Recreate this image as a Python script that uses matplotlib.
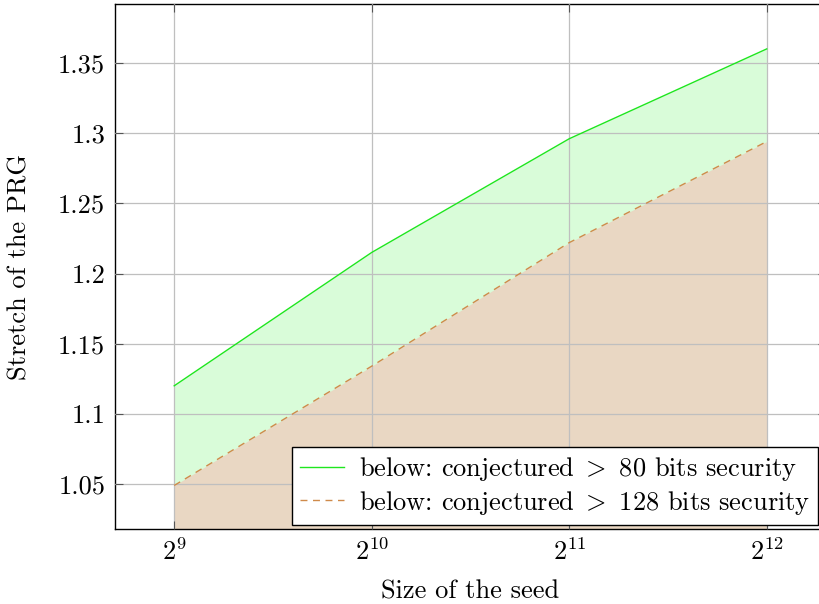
import matplotlib
matplotlib.use("Agg")
import matplotlib.pyplot as plt

plt.rcParams['font.family'] = 'cmr10'
plt.rcParams['mathtext.fontset'] = 'cm'
plt.rcParams['axes.unicode_minus'] = False

# data
seed_sizes = [512, 1024, 2048, 4096]
stretch_80 = [1.120, 1.215, 1.296, 1.360]
stretch_128 = [1.049, 1.134, 1.222, 1.294]
x_ticks = [512, 1024, 2048, 4096]
x_ticklabels = ['$2^{9}$', '$2^{10}$', '$2^{11}$', '$2^{12}$']
y_ticks = [1.05, 1.1, 1.15, 1.2, 1.25, 1.3, 1.35]
y_ticklabels = ['1.05', '1.1', '1.15', '1.2', '1.25', '1.3', '1.35']
labels = [r'below: conjectured$\ {>}\ $80 bits security',
          r'below: conjectured$\ {>}\ $128 bits security']

fs = 19

fig = plt.figure(figsize=(8.2, 6.04), dpi=100)
ax = fig.add_axes([0.1402, 0.1242, 0.8671, 0.8692])
ax.set_xscale('log', base=2)
ax.set_xlim(2 ** 8.7, 2 ** 12.3)
ax.set_ylim(1.018, 1.392)

ymin = ax.get_ylim()[0]
ax.fill_between(seed_sizes, stretch_80, ymin, color='#d9fcd9', lw=0, zorder=1)
ax.fill_between(seed_sizes, stretch_128, ymin, color='#e9d7c3', lw=0, zorder=1.1)
ax.plot(seed_sizes, stretch_80, color='#1ee61e', lw=1.0, zorder=3, label=labels[0])
ax.plot(seed_sizes, stretch_128, color='#cf8a4a', lw=1.0, ls=(0, (5, 4)), zorder=3, label=labels[1])

ax.set_xticks(x_ticks)
ax.set_xticklabels(x_ticklabels)
ax.minorticks_off()
ax.set_yticks(y_ticks)
ax.set_yticklabels(y_ticklabels)
ax.tick_params(direction='in', length=6, width=0.8, color='#555555',
               top=True, right=True, labelsize=fs, pad=7)
ax.grid(True, color='#bfbfbf', lw=0.9)
ax.set_axisbelow(False)
for s in ax.spines.values():
    s.set_linewidth(1.0)

ax.set_xlabel('Size of the seed', fontsize=fs)
ax.set_ylabel('Stretch of the PRG', fontsize=fs)
ax.xaxis.set_label_coords(0.5, -0.097)
ax.yaxis.set_label_coords(-0.117, 0.5)

leg = ax.legend(loc='lower right', bbox_to_anchor=(0.989, 0.0085), borderaxespad=0,
                fontsize=fs, fancybox=False, framealpha=1, edgecolor='black',
                handlelength=1.7, borderpad=0.3, labelspacing=0.2, handletextpad=0.55)
leg.get_frame().set_linewidth(1.0)

fig.savefig('out.png', dpi=100)
